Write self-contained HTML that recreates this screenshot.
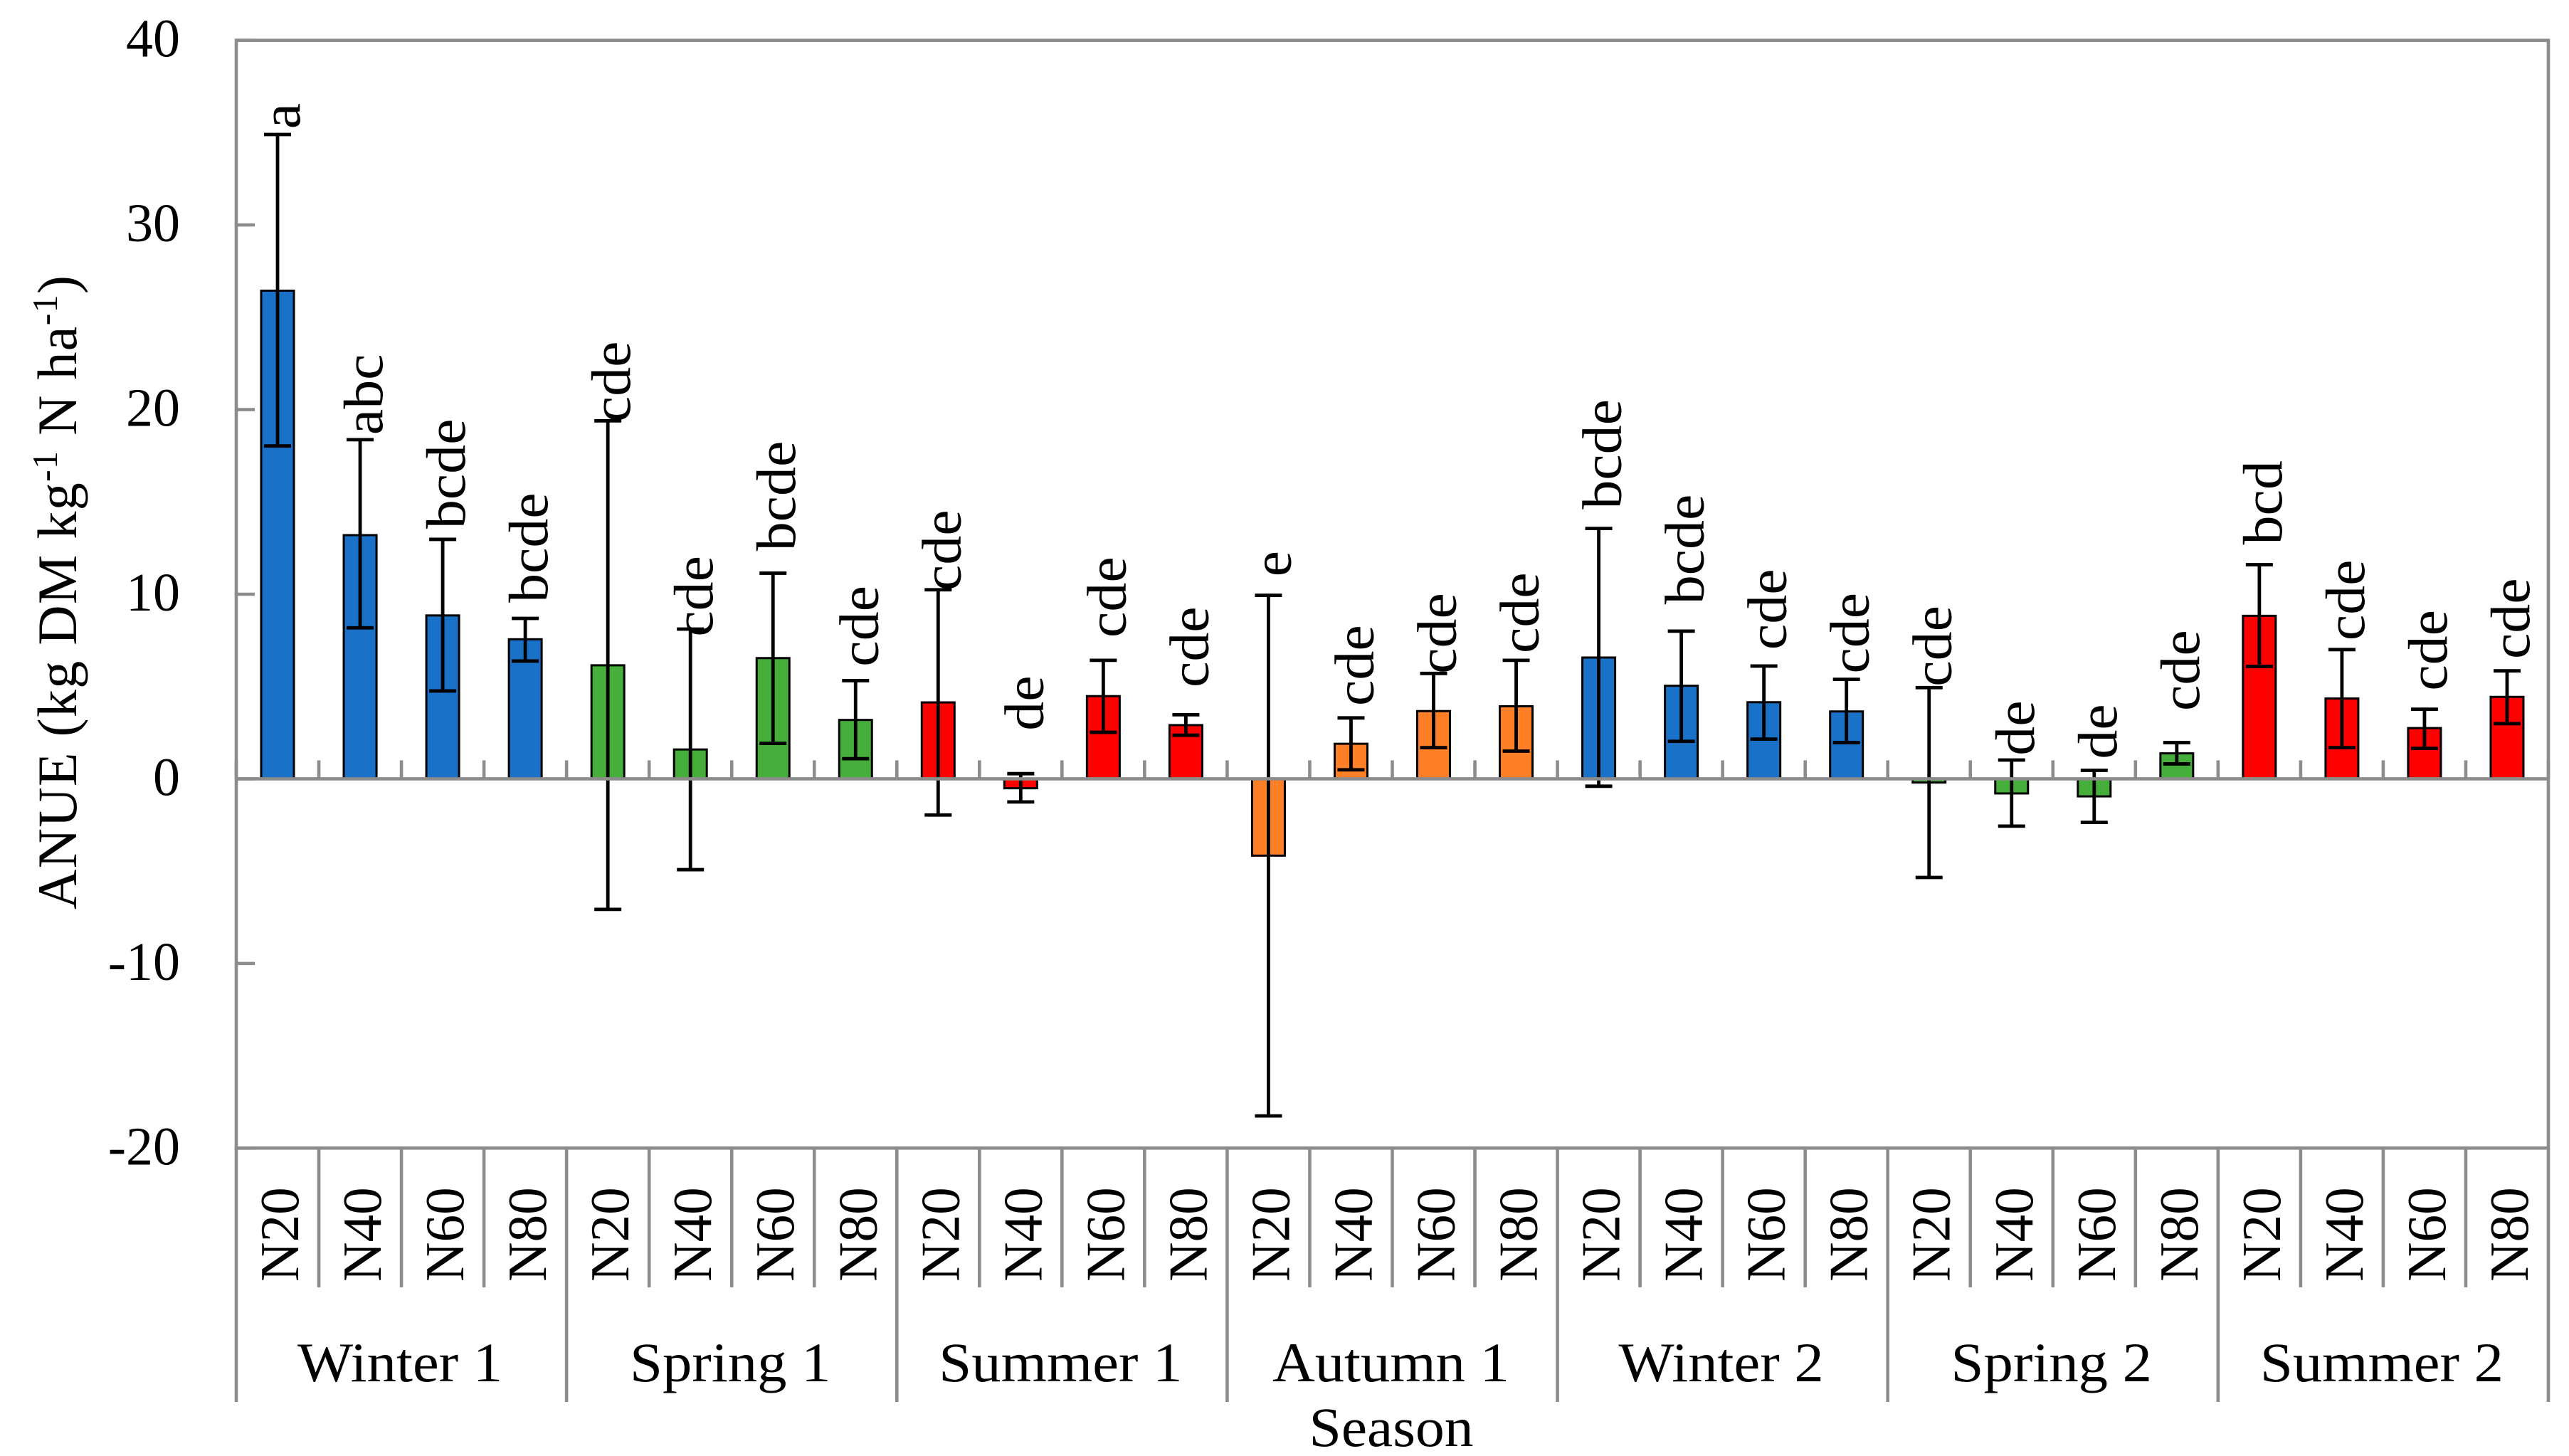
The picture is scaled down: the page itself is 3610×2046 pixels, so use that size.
<!DOCTYPE html>
<html lang="en">
<head>
<meta charset="utf-8">
<title>ANUE by season and nitrogen rate</title>
<style>
html,body{margin:0;padding:0;background:#fff;}
svg{display:block;}
text{font-family:"Liberation Serif",serif;fill:#000;}
</style>
</head>
<body>
<svg id="chart" xmlns="http://www.w3.org/2000/svg" width="3610" height="2046" viewBox="0 0 3610 2046">
  <rect x="0" y="0" width="3610" height="2046" fill="#ffffff"/>
  <g id="bars"></g>
  <g id="errors"></g>
  <g id="letters"></g>
  <g id="axes"></g>
  <g id="ylabels"></g>
  <g id="xlabels"></g>
  <text transform="translate(107,1278) rotate(-90)" font-size="78" letter-spacing="1.3">ANUE (kg DM kg<tspan font-size="50" dy="-27">-1</tspan><tspan dy="27"> N ha</tspan><tspan font-size="50" dy="-27">-1</tspan><tspan dy="27">)</tspan></text>
  <text x="1955" y="2032" font-size="78" text-anchor="middle" textLength="231" lengthAdjust="spacingAndGlyphs">Season</text>
</svg>
<script>
const seasons = ["Winter 1","Spring 1","Summer 1","Autumn 1","Winter 2","Spring 2","Summer 2"];
const seasonColors = ["#1a72c8","#46af3c","#ff0000","#ff7f27","#1a72c8","#46af3c","#ff0000"];
const rates = ["N20","N40","N60","N80"];
const yTicks = [40,30,20,10,0,-10,-20];
const means = [26.44,13.2,8.85,7.56, 6.15,1.59,6.54,3.19, 4.14,-0.51,4.48,2.91, -4.16,1.9,3.67,3.93, 6.57,5.04,4.15,3.65, -0.2,-0.79,-0.95,1.38, 8.83,4.35,2.75,4.44];
const errUpper = [34.9,18.37,12.97,8.69, 19.39,8.11,11.14,5.32, 10.24,0.28,6.42,3.47, 9.94,3.3,5.71,6.42, 13.56,8.0,6.11,5.39, 4.94,1.02,0.46,1.96, 11.6,7.0,3.77,5.85];
const errLower = [18.03,8.18,4.76,6.38, -7.07,-4.92,1.92,1.09, -1.96,-1.25,2.52,2.36, -18.26,0.49,1.69,1.5, -0.4,2.03,2.15,1.96, -5.34,-2.56,-2.36,0.81, 6.09,1.69,1.65,2.99];
const letters = ["a","abc","bcde","bcde", "cde","cde","bcde","cde", "cde","de","cde","cde", "e","cde","cde","cde", "bcde","bcde","cde","cde", "cde","de","de","cde", "bcd","cde","cde","cde"];
const letterLevels = [35.2,18.63,13.54,9.54, 19.32,7.7,12.34,6.08, 10.19,2.61,7.65,4.95, 10.95,3.95,5.69,6.8, 14.6,9.45,6.99,5.7, 5.0,1.26,1.07,3.68, 12.68,7.49,4.77,6.49];

const plotLeft = 332, plotRight = 3581, plotTop = 56.7, plotBottom = 1613.3;
const yMax = 40, yMin = -20;
const catCount = seasons.length * rates.length;
const axisColor = "#8c8c8c", axisWidth = 4.6;
const NS = "http://www.w3.org/2000/svg";

function yScale(v){ return plotBottom - (v - yMin) / (yMax - yMin) * (plotBottom - plotTop); }
function xEdge(i){ return plotLeft + i * (plotRight - plotLeft) / catCount; }
function xCenter(i){ return xEdge(i + 0.5); }
function make(tag, parent){ const el = document.createElementNS(NS, tag); parent.appendChild(el); return el; }
function setAll(el, props){ for (const k in props) el.setAttribute(k, props[k]); return el; }
function seg(parent, x1, y1, x2, y2, color, w){
  return setAll(make("line", parent), {x1:x1, y1:y1, x2:x2, y2:y2, stroke:color, "stroke-width":w});
}

const barsG = document.getElementById("bars");
const errG = document.getElementById("errors");
const lettersG = document.getElementById("letters");
const axesG = document.getElementById("axes");
const yLabG = document.getElementById("ylabels");
const xLabG = document.getElementById("xlabels");

const barWidth = 46, capWidth = 38, zeroY = yScale(0);

means.forEach(function(v, i){
  const group = Math.floor(i / rates.length);
  const cx = xCenter(i);
  const bar = make("rect", barsG);
  
  
  setAll(bar, {x:cx - barWidth / 2, y:Math.min(yScale(v), zeroY), width:barWidth, height:Math.abs(yScale(v) - zeroY), fill:seasonColors[group], stroke:"#000", "stroke-width":3});

  const hi = yScale(errUpper[i]), lo = yScale(errLower[i]);
  const stem = seg(errG, cx, hi, cx, lo, "#000", 4.8);
  
  
  const capTop = seg(errG, cx - capWidth / 2, hi, cx + capWidth / 2, hi, "#000", 4.8);
  
  
  const capBottom = seg(errG, cx - capWidth / 2, lo, cx + capWidth / 2, lo, "#000", 4.8);
  
  

  const lab = make("text", lettersG);
  
  
  setAll(lab, {transform:"translate(" + (cx + 31) + "," + yScale(letterLevels[i]) + ") rotate(-90) scale(1.05,1)", "font-size":78});
  lab.textContent = letters[i];

  const nl = make("text", xLabG);
  
  
  setAll(nl, {transform:"translate(" + (cx + 29) + ",1801) rotate(-90)", "font-size":77});
  nl.textContent = rates[i % rates.length];
});

yTicks.forEach(function(t){
  const y = yScale(t);
  const tick = seg(axesG, plotLeft, y, plotLeft + 26, y, axisColor, axisWidth);
  
  
  const lab = make("text", yLabG);
  
  
  setAll(lab, {x:253, y:y + 23, "text-anchor":"end", "font-size":76});
  lab.textContent = t;
});

for (let i = 0; i <= catCount; i++){
  const isGroup = i % rates.length === 0;
  const tickZero = seg(axesG, xEdge(i), zeroY - 26, xEdge(i), zeroY, axisColor, axisWidth);
  
  
  const sep = seg(axesG, xEdge(i), plotBottom, xEdge(i), isGroup ? 1970 : 1809, axisColor, axisWidth);
  
  
}

seasons.forEach(function(s, g){
  const lab = make("text", xLabG);
  
  
  const mid = (xEdge(g * rates.length) + xEdge((g + 1) * rates.length)) / 2 - 2;
  setAll(lab, {transform:"translate(" + mid + ",1941) scale(1.06,1)", "text-anchor":"middle", "font-size":78});
  lab.textContent = s;
});

const zeroLine = seg(axesG, plotLeft, zeroY, plotRight, zeroY, axisColor, axisWidth);



const frame = make("rect", axesG);


setAll(frame, {x:plotLeft, y:plotTop, width:plotRight - plotLeft, height:plotBottom - plotTop, fill:"none", stroke:axisColor, "stroke-width":axisWidth});
</script>
</body>
</html>
